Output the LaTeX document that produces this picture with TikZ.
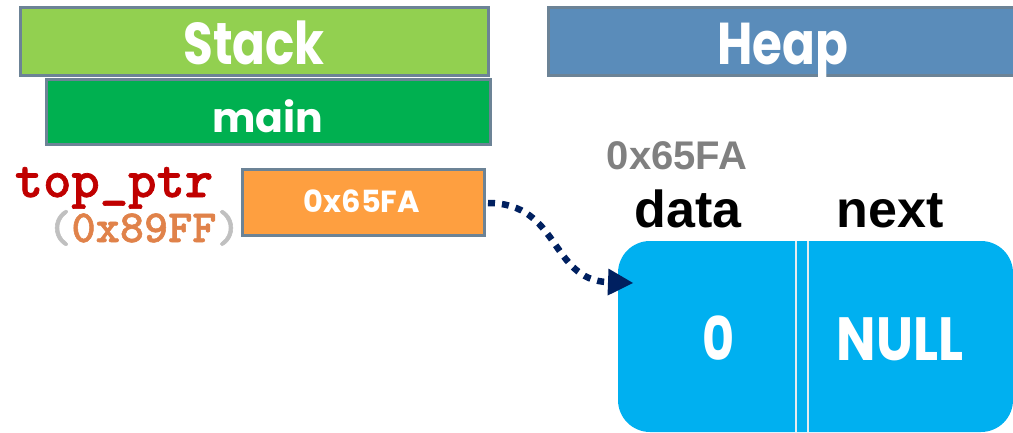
\documentclass[tikz,border=0pt]{standalone}
\usepackage{fontspec}
\usetikzlibrary{arrows.meta}
\newfontfamily\gothic{Poppins}
\newfontfamily\gothicn[FakeStretch=0.82]{Poppins}
\newfontfamily\gothicm[FakeStretch=0.86]{Poppins}
\newfontfamily\arialf{Liberation Sans}
\newfontfamily\courf[FakeBold=1.2]{lmmonolt10-bold.otf}
\definecolor{frameblue}{HTML}{6C8396}
\definecolor{stackgreen}{HTML}{92D050}
\definecolor{mainGreen}{HTML}{00B050}
\definecolor{heapblue}{HTML}{5A8CBA}
\definecolor{ptrorange}{HTML}{FE9F40}
\definecolor{nodecyan}{HTML}{00B0F0}
\definecolor{navy}{HTML}{002060}
\definecolor{ptrred}{HTML}{C00000}
\definecolor{addrorange}{HTML}{E0824A}
\definecolor{parengray}{HTML}{C0C0C0}
\definecolor{addrgray}{HTML}{808080}
\definecolor{divline}{HTML}{E6ECEF}
\begin{document}
\begin{tikzpicture}[x=1pt,y=-1pt,
  panel/.style={draw=frameblue,line width=3pt},
  whitetxt/.style={text=white,inner sep=0pt,anchor=base},
  label/.style={inner sep=0pt,anchor=base},
  ptrlink/.style={draw=navy,line width=6.5pt,dash pattern=on 7pt off 7pt,
    -{Triangle[length=25pt,width=27pt,line width=0pt]}}]
\path[use as bounding box] (0,0) rectangle (1013,433);
\clip (0,0) rectangle (1013,433);

% stack and heap headers
\path[panel,fill=stackgreen] (20,8) rectangle (488,76);
\node[whitetxt] (stack) at (254,65) {\gothicn\bfseries\fontsize{59}{61}\selectfont Stack};
\path[panel,fill=heapblue] (548,8) rectangle (1020,76);
\node[whitetxt] (heap) at (783,65) {\gothicn\bfseries\fontsize{59}{61}\selectfont Heap};

% main frame
\path[panel,fill=mainGreen] (46,80) rectangle (490,145);
\node[whitetxt] (main) at (268,133) {\gothic\bfseries\fontsize{41}{43}\selectfont main};

% pointer variable
\node[label,text=ptrred] (ptrname) at (114,197) {\courf\fontsize{54}{56}\selectfont top\_ptr};
\node[label] (ptraddr) at (144,242) {\courf\fontsize{46}{48}\selectfont
  \textcolor{parengray}{(}\textcolor{addrorange}{0x89FF}\textcolor{parengray}{)}};
\path[panel,fill=ptrorange] (242,170) rectangle (484,236);
\coordinate (ob) at (488,203);
\node[whitetxt] (ptrval) at (362,212) {\gothic\bfseries\fontsize{30.5}{32}\selectfont 0x65FA};

% heap node
\node[label,text=addrgray] (nodeaddr) at (677,170) {\arialf\bfseries\fontsize{40}{42}\selectfont 0x65FA};
\node[label] (datalbl) at (688,228) {\arialf\bfseries\fontsize{52}{54}\selectfont data};
\node[label] (nextlbl) at (890,227) {\arialf\bfseries\fontsize{52}{54}\selectfont next};
\path[fill=nodecyan,rounded corners=32pt] (618,241) rectangle (1013,432);
\draw[divline,line width=2.5pt] (796,241) -- (796,432);
\draw[divline,line width=2.5pt] (808,241) -- (808,432);
\node[whitetxt] (dataval) at (719,360) {\gothicn\bfseries\fontsize{60}{62}\selectfont 0};
\node[whitetxt] (nextval) at (900,360) {\gothicm\bfseries\fontsize{61}{63}\selectfont NULL};

% pointer arrow
\coordinate (tip) at (633,283);
\draw[ptrlink] (ob) .. controls (560,203) and (550,280) .. (tip);
\end{tikzpicture}
\end{document}
